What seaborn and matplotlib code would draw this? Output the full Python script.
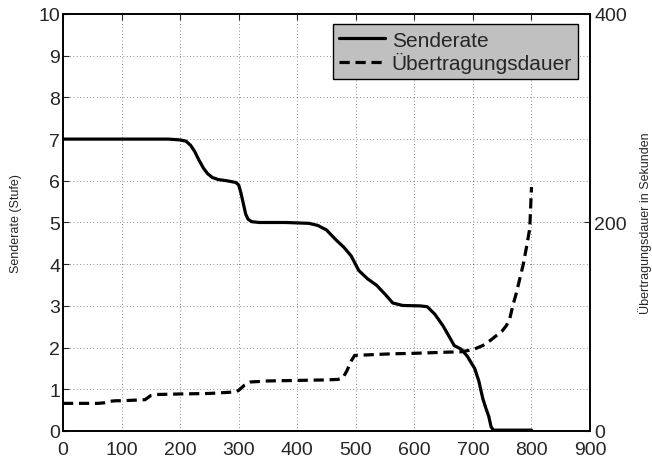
import matplotlib
matplotlib.use("Agg")
import matplotlib.pyplot as plt
import seaborn as sns
import pandas as pd

# Senderate (left axis, level)
rate_x = [0, 100, 180, 200, 210, 218, 225, 232, 240, 247, 255, 265, 280, 295, 300, 304, 308, 312, 316, 322, 335, 380, 420, 435, 450,
          465, 480, 492, 505, 520, 535, 550, 563, 580, 610, 622, 635, 649, 660, 668, 680, 690, 703, 710, 717,
          722, 727, 731, 735, 760, 800]
rate_y = [7.0, 7.0, 7.0, 6.98, 6.95, 6.85, 6.7, 6.5, 6.3, 6.17, 6.08, 6.03, 6.0, 5.96, 5.9, 5.7, 5.45, 5.2, 5.08, 5.02, 5.0, 5.0, 4.98, 4.93, 4.82,
          4.6, 4.4, 4.2, 3.85, 3.65, 3.5, 3.28, 3.07, 3.01, 3.0, 2.98, 2.8, 2.52, 2.25, 2.05, 1.96, 1.8, 1.5, 1.2, 0.77,
          0.55, 0.35, 0.1, 0.02, 0.02, 0.02]

# Übertragungsdauer (right axis, seconds)
dur_x = [0, 60, 70, 80, 90, 100, 120, 140, 150, 160, 200, 250, 280, 295, 300, 310, 320, 350, 400, 450, 470, 478,
         485, 492, 498, 520, 560, 600, 650, 680, 700, 717, 730, 740, 750, 757, 763, 768, 774, 780, 786, 791, 797, 800]
dur_y = [26.5, 26.5, 27.0, 28.5, 29.0, 29.0, 29.5, 30.0, 34.0, 35.0, 35.5, 36.0, 37.0, 37.5, 39.0, 44.0, 47.0, 48.0, 48.5, 49.0, 49.5, 51.0,
         58.0, 67.0, 72.5, 73.0, 74.0, 74.5, 75.5, 76.0, 78.0, 82.0, 87.0, 91.5, 96.0, 101.0, 108.0, 120.0, 132.0, 146.0, 160.0, 175.0, 194.0, 234.0]

rate_df = pd.DataFrame({"x": rate_x, "y": rate_y})
dur_df = pd.DataFrame({"x": dur_x, "y": dur_y})

sns.set_style("white")
plt.rcParams["font.family"] = ["Liberation Sans", "DejaVu Sans"]

fig = plt.figure(figsize=(6.52, 4.60), dpi=100)
ax = fig.add_axes([0.0966, 0.0609, 0.8084, 0.9065])
ax2 = ax.twinx()

sns.lineplot(data=rate_df, x="x", y="y", ax=ax, color="black", linewidth=2.3, label="Senderate", legend=False)
sns.lineplot(data=dur_df, x="x", y="y", ax=ax2, color="black", linewidth=2.3, label="Übertragungsdauer", legend=False)
ax2.lines[0].set_dashes((3.2, 1.8))

ax.set_xlim(0, 900)
ax.set_ylim(0, 10)
ax2.set_ylim(0, 400)
ax.set_xticks(range(0, 901, 100))
ax.set_yticks(range(0, 11))
ax2.set_yticks([0, 200, 400])

ax.grid(True, linestyle=(0, (1, 3)), color="black", linewidth=0.6, alpha=0.6)
ax.set_xlabel("")
ax.set_ylabel("Senderate (Stufe)", fontsize=9, labelpad=12)
ax2.set_ylabel("Übertragungsdauer in Sekunden", fontsize=9, labelpad=8)

for a in (ax, ax2):
    for s in a.spines.values():
        s.set_color("black")
        s.set_linewidth(1.2)
ax.tick_params(axis="y", direction="in", labelsize=14, length=4, width=0.8, pad=2)
ax.tick_params(axis="x", direction="in", labelsize=14, length=4, top=True, width=0.8, pad=7)
ax2.tick_params(axis="y", direction="in", labelsize=14, length=4, width=0.8, pad=3)

h1, l1 = ax.get_legend_handles_labels()
h2, l2 = ax2.get_legend_handles_labels()
leg = ax2.legend(h1 + h2, l1 + l2, loc="upper right", bbox_to_anchor=(0.985, 0.985), fontsize=15,
                 frameon=True, fancybox=False, framealpha=1, facecolor="#c0c0c0", edgecolor="black",
                 handlelength=2.2, handletextpad=0.33, borderpad=0.3, labelspacing=0.1, borderaxespad=0.2)
leg.get_frame().set_linewidth(1.0)

fig.savefig("out.png", dpi=100)
